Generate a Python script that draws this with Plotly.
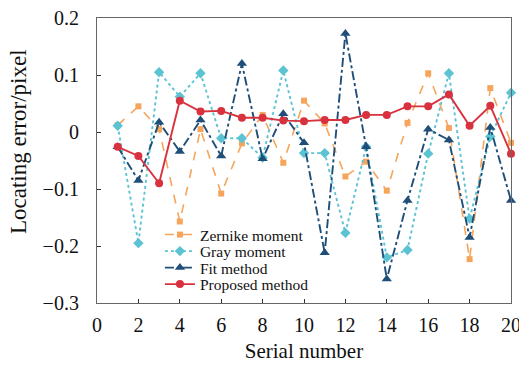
import plotly.graph_objects as go

serial = list(range(1, 21))
zernike = [0.012, 0.045, 0.005, -0.157, 0.005, -0.108, -0.02, 0.03, -0.054, 0.055,
           0.015, -0.078, -0.052, -0.103, 0.016, 0.103, 0.007, -0.223, 0.077, -0.019]
gray = [0.011, -0.195, 0.105, 0.062, 0.103, -0.011, -0.011, -0.045, 0.108, -0.037,
        -0.037, -0.177, -0.026, -0.22, -0.207, -0.038, 0.103, -0.152, -0.008, 0.069]
fit = [-0.026, -0.085, 0.017, -0.034, 0.021, -0.042, 0.12, -0.047, 0.032, -0.019,
       -0.212, 0.173, -0.026, -0.258, -0.12, 0.005, -0.014, -0.185, 0.008, -0.12]
proposed = [-0.026, -0.042, -0.09, 0.055, 0.036, 0.037, 0.025, 0.025, 0.02, 0.019,
            0.021, 0.021, 0.03, 0.03, 0.045, 0.045, 0.066, 0.011, 0.046, -0.038]

names = ["Zernike moment", "Gray moment", "Fit method", "Proposed method"]
x_ticks = [0, 2, 4, 6, 8, 10, 12, 14, 16, 18, 20]
y_ticks = [-0.3, -0.2, -0.1, 0, 0.1, 0.2]
x_title = "Serial number"
y_title = "Locating error/pixel"

FONT = "Liberation Serif, Times New Roman, serif"

fig = go.Figure()
styles = [
    (zernike, "#F5A55C", "dash", "square", 6, 1.6),
    (gray, "#5CC3D3", "dot", "diamond", 8, 1.9),
    (fit, "#1F4E79", "dashdot", "triangle-up", 9, 1.9),
    (proposed, "#D9323F", "solid", "circle", 8, 1.9),
]
legend_ids = ["legend", "legend2", "legend3", "legend4"]
for (vals, col, dash, sym, msz, lw), name, lg in zip(styles, names, legend_ids):
    fig.add_trace(go.Scatter(
        x=serial, y=vals, name=name, mode="lines+markers",
        line=dict(color=col, dash=dash, width=lw),
        marker=dict(symbol=sym, size=msz, color=col),
        cliponaxis=False, legend=lg,
    ))

leg_y = [0.2386, 0.1807, 0.1228, 0.0649]
legend_common = dict(x=0.152, xanchor="left", yanchor="middle",
                     bgcolor="rgba(0,0,0,0)", borderwidth=0,
                     font=dict(family=FONT, size=15.5, color="#111"),
                     itemwidth=30, tracegroupgap=0)
layout_legends = {}
for lg, yy in zip(legend_ids, leg_y):
    d = dict(legend_common)
    d["y"] = yy
    layout_legends[lg] = d

axis_common = dict(
    showgrid=False, zeroline=False, showline=True, linecolor="#666", linewidth=1.2,
    mirror=True, ticks="inside", ticklen=4, tickcolor="#333",
    tickfont=dict(family=FONT, size=20, color="#111"),
    ticklabeloverflow="allow", automargin=False,
)

fig.update_layout(
    width=519, height=365,
    margin=dict(l=97, r=8, t=18, b=62),
    paper_bgcolor="white", plot_bgcolor="white",
    showlegend=True,
    xaxis=dict(range=[0, 20], tickvals=x_ticks, ticklabelstandoff=4,
               title=dict(text=x_title, font=dict(family=FONT, size=21, color="#111"), standoff=8),
               **axis_common),
    yaxis=dict(range=[-0.3, 0.2], tickvals=y_ticks, ticklabelstandoff=13,
               **axis_common),
    **layout_legends,
)
fig.add_annotation(
    text=y_title, textangle=-90, showarrow=False,
    xref="paper", yref="paper", x=-0.191, y=0.568,
    xanchor="center", yanchor="middle",
    font=dict(family=FONT, size=23, color="#111"),
)

fig.write_html("out.html")
